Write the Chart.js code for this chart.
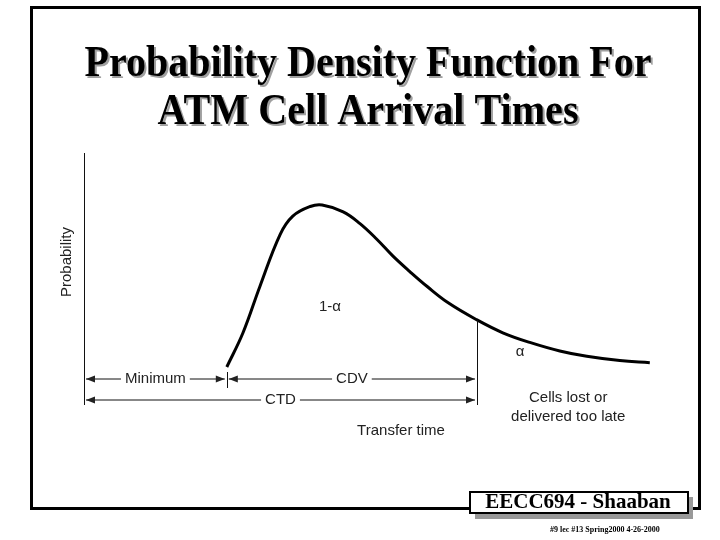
<!DOCTYPE html>
<html>
<head>
<meta charset="utf-8">
<script src="https://cdn.jsdelivr.net/npm/chart.js@4"></script>
<style>
    html, body { margin: 0; padding: 0; background: #fff; }
    canvas { display: block; }
</style>
</head>
<body>
<canvas id="pdfChart" width="720" height="540"></canvas>
<script>
// valores (unidades arbitrarias)
const titleLines = ['Probability Density Function For', 'ATM Cell Arrival Times']
const transferTime = [23.8, 26.5, 29.3, 32.7, 34.8, 37.7, 39.7, 43.2, 46.0, 48.8, 51.5, 54.3, 57.2, 60.7, 65.5, 69.8, 74.3, 79.3, 83.8, 89.3, 94.3]
const probability = [0, 0.16, 0.375, 0.62, 0.705, 0.75, 0.757, 0.725, 0.67, 0.597, 0.518, 0.446, 0.376, 0.30, 0.22, 0.16, 0.115, 0.075, 0.05, 0.03, 0.02]
const minimumDelay = 23.8
const deadline = 65.5
const regionLabels = [
    { text: '1-\u03b1', x: 41, y: 0.28 },
    { text: '\u03b1', x: 72.7, y: 0.07 }
]
const lateLabel = ['Cells lost or', 'delivered too late']
const footerText = 'EECC694 - Shaaban'
const footerSmall = '#9 lec #13 Spring2000 4-26-2000'

const sans = '"Liberation Sans", Arial, sans-serif'
const serif = '"Liberation Serif", "Times New Roman", serif'

function arrowHead(ctx, x, y, dir) {
    ctx.beginPath()
    ctx.moveTo(x, y)
    ctx.lineTo(x - dir * 9, y - 3.5)
    ctx.lineTo(x - dir * 9, y + 3.5)
    ctx.closePath()
    ctx.fill()
}

// flecha con texto en medio: |<--- texto --->|
function spanArrow(ctx, x1, x2, y, text) {
    const cx = (x1 + x2) / 2
    const w = ctx.measureText(text).width
    ctx.beginPath()
    ctx.moveTo(x1 + 2, y)
    ctx.lineTo(cx - w / 2 - 4, y)
    ctx.moveTo(cx + w / 2 + 4, y)
    ctx.lineTo(x2 - 2, y)
    ctx.stroke()
    arrowHead(ctx, x1 + 2, y, -1)
    arrowHead(ctx, x2 - 2, y, 1)
    ctx.fillText(text, cx, y)
}

const slideDecor = {
    id: 'slideDecor',
    afterDraw(chart) {
        const ctx = chart.ctx
        const xs = chart.scales.x
        const ys = chart.scales.y
        const area = chart.chartArea
        ctx.save()

        // marco
        ctx.strokeStyle = '#000'
        ctx.lineWidth = 3
        ctx.strokeRect(31.5, 7.5, 668, 501)

        // titulo con sombra
        ctx.font = 'bold 44px ' + serif
        ctx.textAlign = 'center'
        ctx.textBaseline = 'alphabetic'
        const widths = [567, 421]
        titleLines.forEach((line, i) => {
            const y = 76 + i * 48
            ctx.fillStyle = '#a0a0a0'
            ctx.fillText(line, 370, y + 2, widths[i])
            ctx.fillStyle = '#000'
            ctx.fillText(line, 368, y, widths[i])
        })

        // eje de probabilidad
        const x0 = xs.getPixelForValue(0)
        const base = ys.getPixelForValue(0)
        const xMin = xs.getPixelForValue(minimumDelay)
        const xDead = xs.getPixelForValue(deadline)
        ctx.lineWidth = 1
        ctx.strokeStyle = '#111'
        ctx.beginPath()
        ctx.moveTo(x0 + 0.5, area.top)
        ctx.lineTo(x0 + 0.5, base + 38)
        ctx.moveTo(Math.round(xMin) + 0.5, base + 5)
        ctx.lineTo(Math.round(xMin) + 0.5, base + 21)
        ctx.moveTo(Math.round(xDead) + 0.5, ys.getPixelForValue(0.22))
        ctx.lineTo(Math.round(xDead) + 0.5, base + 38)
        ctx.stroke()

        ctx.fillStyle = '#222'
        ctx.font = '15px ' + sans
        ctx.textBaseline = 'middle'

        ctx.save()
        ctx.translate(67, 262)
        ctx.rotate(-Math.PI / 2)
        ctx.fillText('Probability', 0, 0)
        ctx.restore()

        spanArrow(ctx, x0, xMin, base + 12, 'Minimum')
        spanArrow(ctx, xMin, xDead, base + 12, 'CDV')
        spanArrow(ctx, x0, xDead, base + 33, 'CTD')

        regionLabels.forEach(l => {
            ctx.fillText(l.text, xs.getPixelForValue(l.x), ys.getPixelForValue(l.y))
        })

        const xLate = xs.getPixelForValue(80.7)
        ctx.fillText(lateLabel[0], xLate, base + 31)
        ctx.fillText(lateLabel[1], xLate, base + 50)
        ctx.fillText('Transfer time', 401, base + 64)

        // pie de pagina
        ctx.fillStyle = '#999'
        ctx.fillRect(475, 497, 218, 22)
        ctx.fillStyle = '#fff'
        ctx.fillRect(470, 492, 218, 21)
        ctx.strokeStyle = '#000'
        ctx.lineWidth = 2
        ctx.strokeRect(470, 492, 218, 21)
        ctx.fillStyle = '#000'
        ctx.font = 'bold 21px ' + serif
        ctx.fillText(footerText, 578, 503, 188)
        ctx.font = 'bold 8px ' + serif
        ctx.textAlign = 'left'
        ctx.fillText(footerSmall, 550, 530, 148)

        ctx.restore()
    }
}

new Chart(document.getElementById('pdfChart'), {
    type: 'line',
    data: {
        datasets: [{
            data: transferTime.map((t, i) => ({ x: t, y: probability[i] })),
            borderColor: '#000',
            borderWidth: 3,
            pointRadius: 0,
            tension: 0.4,
            fill: false,
            clip: false
        }]
    },
    options: {
        responsive: false,
        animation: false,
        devicePixelRatio: 1,
        layout: { padding: { left: 84, top: 153, right: 36, bottom: 173 } },
        scales: {
            x: { type: 'linear', min: 0, max: 100, display: false },
            y: { type: 'linear', min: 0, max: 1, display: false }
        },
        plugins: {
            legend: { display: false },
            tooltip: { enabled: false }
        }
    },
    plugins: [slideDecor]
})
</script>
</body>
</html>
